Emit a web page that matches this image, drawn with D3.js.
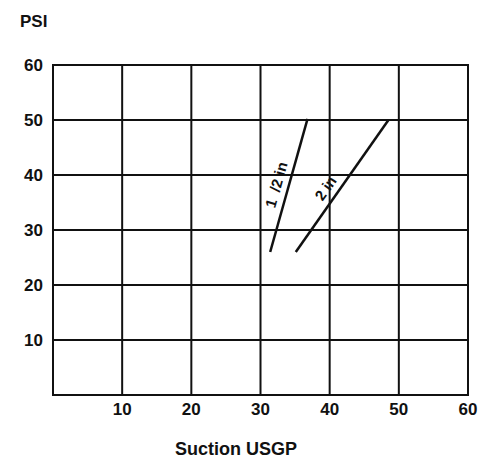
<!DOCTYPE html>
<html>
<head>
<meta charset="utf-8">
<script src="https://cdn.jsdelivr.net/npm/d3@7"></script>
<style>
  body { margin: 0; background: #fff; }
  text { font-family: "Liberation Sans", Arial, sans-serif; font-weight: bold; fill: #111; white-space: pre; }
</style>
</head>
<body>
<div id="chart"></div>
<script>
// values
const xTicks = [10, 20, 30, 40, 50, 60];
const yTicks = [10, 20, 30, 40, 50, 60];
const pipeNames = ['1  /2 in', '2 in'];
const pipeSmall = [[31.4, 26], [36.8, 50.2]];
const pipeLarge = [[35.1, 26], [48.5, 50]];

const width = 480, height = 459;
const margin = { top: 65, right: 12, bottom: 64, left: 53 };

const svg = d3.select('#chart').append('svg')
  .attr('width', width)
  .attr('height', height);

const x = d3.scaleLinear().domain([0, 60]).range([margin.left, width - margin.right]);
const y = d3.scaleLinear().domain([0, 60]).range([height - margin.bottom, margin.top]);

// grid
const grid = svg.append('g').attr('stroke', '#111').attr('stroke-width', 2);
grid.selectAll('.vx')
  .data(xTicks)
  .enter().append('line')
  .attr('x1', d => x(d)).attr('x2', d => x(d))
  .attr('y1', y(0)).attr('y2', y(60));
grid.selectAll('.hy')
  .data(yTicks)
  .enter().append('line')
  .attr('x1', x(0)).attr('x2', x(60))
  .attr('y1', d => y(d)).attr('y2', d => y(d));
grid.append('rect')
  .attr('x', x(0)).attr('y', y(60))
  .attr('width', x(60) - x(0)).attr('height', y(0) - y(60))
  .attr('fill', 'none');

// tick labels
svg.append('g').selectAll('text')
  .data(xTicks)
  .enter().append('text')
  .attr('x', d => x(d))
  .attr('y', y(0) + 20)
  .attr('text-anchor', 'middle')
  .attr('font-size', 17)
  .text(d => d);

svg.append('g').selectAll('text')
  .data(yTicks)
  .enter().append('text')
  .attr('x', x(0) - 10)
  .attr('y', d => y(d) + 6)
  .attr('text-anchor', 'end')
  .attr('font-size', 17)
  .text(d => d);

svg.append('text')
  .attr('x', 20).attr('y', 27)
  .attr('font-size', 17)
  .text('PSI');

svg.append('text')
  .attr('x', 236).attr('y', 455)
  .attr('text-anchor', 'middle')
  .attr('font-size', 18)
  .text('Suction USGP');

// pipe curves
const line = d3.line().x(d => x(d[0])).y(d => y(d[1]));
[pipeSmall, pipeLarge].forEach((pts, i) => {
  svg.append('path')
    .datum(pts)
    .attr('d', line)
    .attr('fill', 'none')
    .attr('stroke', '#111')
    .attr('stroke-width', 2.5);

  const [a, b] = pts;
  const ang = Math.atan2(y(b[1]) - y(a[1]), x(b[0]) - x(a[0])) * 180 / Math.PI;
  // label sits left of the line
  const t = i === 0 ? 0.48 : 0.43;
  const px = x(a[0]) + (x(b[0]) - x(a[0])) * t;
  const py = y(a[1]) + (y(b[1]) - y(a[1])) * t;
  svg.append('text')
    .attr('transform', `translate(${px},${py}) rotate(${ang}) translate(0,-7)`)
    .attr('text-anchor', 'middle')
    .attr('font-size', 15)
    .text(pipeNames[i]);
});
</script>
</body>
</html>
